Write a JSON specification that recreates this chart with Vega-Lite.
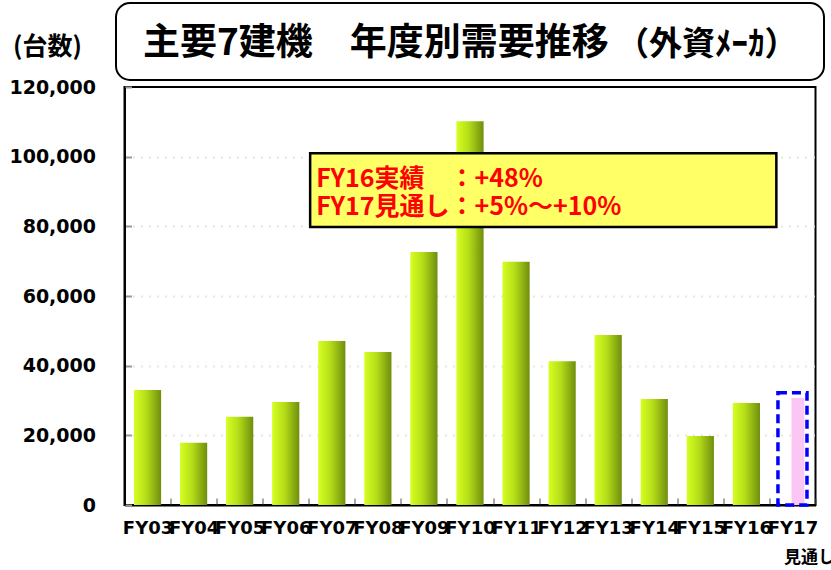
{
  "$schema": "https://vega.github.io/schema/vega-lite/v6.json",
  "padding": {"left": 7, "top": 2, "right": 0, "bottom": 0},
  "autosize": {"type": "pad"},
  "background": "white",
  "bounds": "flush",
  "center": true,
  "spacing": 7,
  "title": {
    "text": "（外資ﾒｰｶ）",
    "font": "Noto Sans CJK JP",
    "fontSize": 33,
    "fontWeight": "bold",
    "color": "black",
    "orient": "none",
    "anchor": "start",
    "align": "left",
    "frame": "group",
    "baseline": "alphabetic",
    "dx": 500,
    "dy": 52
  },
  "config": {
    "view": {"stroke": null},
    "font": "DejaVu Sans"
  },
  "vconcat": [
    {
      "width": 708,
      "height": 77,
      "view": {"stroke": "black", "strokeWidth": 2, "cornerRadius": 14, "fill": "white"},
      "title": {
        "text": "主要7建機　年度別需要推移",
        "font": "Noto Sans CJK JP",
        "fontSize": 37,
        "fontWeight": "bold",
        "color": "black",
        "orient": "none",
        "anchor": "start",
        "align": "left",
        "frame": "group",
        "baseline": "alphabetic",
        "dx": 27,
        "dy": 52
      },
      "data": {"values": [{}]},
      "mark": {"type": "text", "text": ""},
      "encoding": {}
    },
    {
      "width": 691,
      "height": 418,
      "view": {"stroke": "black", "strokeWidth": 2},
      "data": {
        "values": [
          {"fy": "FY03", "units": 33000},
          {"fy": "FY04", "units": 17900},
          {"fy": "FY05", "units": 25300},
          {"fy": "FY06", "units": 29600},
          {"fy": "FY07", "units": 47100},
          {"fy": "FY08", "units": 43900},
          {"fy": "FY09", "units": 72600},
          {"fy": "FY10", "units": 110200},
          {"fy": "FY11", "units": 69800},
          {"fy": "FY12", "units": 41300},
          {"fy": "FY13", "units": 48800},
          {"fy": "FY14", "units": 30400},
          {"fy": "FY15", "units": 19800},
          {"fy": "FY16", "units": 29300},
          {"fy": "FY17", "units": 30700, "high": 32200, "note": "見通し"}
        ]
      },
      "encoding": {
        "x": {
          "field": "fy",
          "type": "nominal",
          "sort": null,
          "scale": {"paddingInner": 0, "paddingOuter": 0},
          "axis": {
            "title": null,
            "labelAngle": 0,
            "labelFont": "DejaVu Sans",
            "labelFontSize": 18,
            "labelFontWeight": "bold",
            "labelColor": "black",
            "labelPadding": 21,
            "labelOverlap": false,
            "labelBound": false,
            "domainColor": "black",
            "domainWidth": 2,
            "tickBand": "extent",
            "tickSize": -7,
            "tickColor": "#555555",
            "tickWidth": 1
          }
        }
      },
      "layer": [
        {
          "transform": [{"filter": "datum.fy !== 'FY17'"}],
          "mark": {
            "type": "bar",
            "width": {"band": 0.59},
            "color": {
              "gradient": "linear",
              "x1": 0, "y1": 0, "x2": 1, "y2": 0,
              "stops": [
                {"offset": 0, "color": "#d6ff22"},
                {"offset": 0.45, "color": "#b5dd18"},
                {"offset": 1, "color": "#6f8e0e"}
              ]
            }
          },
          "encoding": {
            "y": {
              "field": "units",
              "type": "quantitative",
              "scale": {"domain": [0, 120000]},
              "axis": {
                "title": "(台数)",
                "titleAngle": 0,
                "titleX": -112,
                "titleY": -33,
                "titleAlign": "left",
                "titleBaseline": "alphabetic",
                "titleFont": "Noto Sans CJK JP",
                "titleFontSize": 25,
                "titleFontWeight": "bold",
                "titleColor": "black",
                "values": [0, 20000, 40000, 60000, 80000, 100000, 120000],
                "format": ",d",
                "labelFont": "DejaVu Sans",
                "labelFontSize": 19,
                "labelFontWeight": "bold",
                "labelColor": "black",
                "labelPadding": 36,
                "domainColor": "black",
                "domainWidth": 2,
                "tickSize": -7,
                "tickColor": "#999999",
                "tickWidth": 2,
                "grid": true,
                "gridColor": "#e8e8da",
                "gridWidth": 2,
                "gridDash": [2, 6],
                "gridOpacity": {"condition": {"test": "datum.value === 120000 || datum.value === 0", "value": 0}, "value": 1}
              }
            }
          }
        },
        {
          "transform": [{"filter": "datum.fy === 'FY17'"}],
          "mark": {"type": "bar", "width": {"band": 0.28}, "xOffset": 5.5, "color": "#fbc6f4"},
          "encoding": {"y": {"field": "units", "type": "quantitative"}}
        },
        {
          "transform": [{"filter": "datum.fy === 'FY17'"}],
          "mark": {"type": "bar", "width": {"band": 0.63}, "fill": null, "fillOpacity": 0, "stroke": "#0000ff", "strokeWidth": 3.5, "strokeDash": [9, 5]},
          "encoding": {"y": {"field": "high", "type": "quantitative"}}
        },
        {
          "transform": [{"filter": "datum.fy === 'FY17'"}],
          "mark": {"type": "text", "font": "Noto Sans CJK JP", "fontSize": 17, "fontWeight": "bold", "color": "black", "baseline": "alphabetic", "dx": 17, "dy": 58},
          "encoding": {
            "y": {"datum": 0, "type": "quantitative"},
            "text": {"field": "note"}
          }
        },
        {
          "data": {"values": [{}]},
          "mark": {"type": "rect", "fill": "#ffff66", "stroke": "black", "strokeWidth": 2.5},
          "encoding": {
            "x": {"datum": "FY07", "bandPosition": 0.03},
            "x2": {"datum": "FY17", "bandPosition": 0.15},
            "y": {"datum": 101000, "type": "quantitative"},
            "y2": {"datum": 79800}
          }
        },
        {
          "data": {"values": [{}]},
          "mark": {
            "type": "text",
            "text": ["FY16実績　：+48%", "FY17見通し：+5%～+10%"],
            "font": "Noto Sans CJK JP",
            "fontSize": 25,
            "fontWeight": "bold",
            "color": "#ff0000",
            "align": "left",
            "baseline": "alphabetic",
            "lineHeight": 28
          },
          "encoding": {
            "x": {"datum": "FY07", "bandPosition": 0.16},
            "y": {"datum": 91200, "type": "quantitative"}
          }
        }
      ]
    }
  ]
}
